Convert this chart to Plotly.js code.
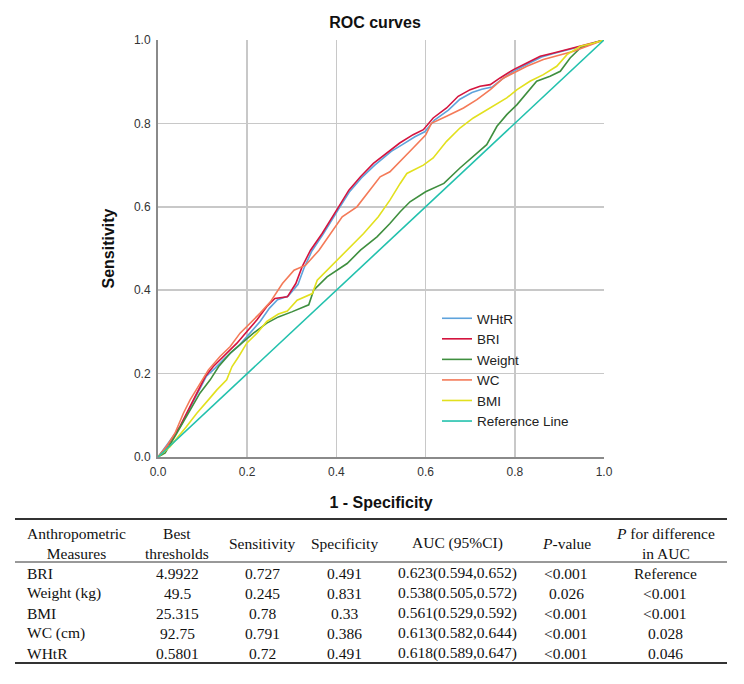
<!DOCTYPE html>
<html>
<head>
<meta charset="utf-8">
<script src="https://cdn.plot.ly/plotly-3.0.1.min.js"></script>
<style>html,body{margin:0;padding:0;background:#fff;}#chart{width:744px;height:684px;}</style>
</head>
<body>
<div id="chart"></div>
<script>
// ROC curve points (1 - Specificity, Sensitivity)
const whtrX = [0,0.05,0.073,0.092,0.108,0.128,0.15,0.183,0.203,0.229,0.25,0.268,0.292,0.314,0.327,0.345,0.37,0.392,0.407,0.43,0.456,0.486,0.523,0.546,0.576,0.598,0.62,0.651,0.677,0.704,0.726,0.749,0.77,0.8,0.83,0.86,0.889,0.919,0.948,0.978,1];
const whtrY = [0,0.073,0.121,0.161,0.193,0.213,0.237,0.269,0.293,0.325,0.357,0.377,0.386,0.414,0.452,0.494,0.534,0.574,0.598,0.637,0.669,0.7,0.733,0.748,0.768,0.78,0.808,0.832,0.858,0.874,0.882,0.887,0.905,0.927,0.943,0.959,0.968,0.976,0.984,0.993,1];

const briX = [0,0.02,0.049,0.072,0.091,0.106,0.124,0.147,0.177,0.196,0.222,0.244,0.262,0.29,0.309,0.323,0.342,0.368,0.39,0.405,0.428,0.454,0.483,0.52,0.542,0.572,0.595,0.617,0.647,0.673,0.7,0.722,0.745,0.767,0.797,0.827,0.857,0.887,0.917,0.947,0.977,1];
const briY = [0,0.025,0.073,0.121,0.161,0.193,0.217,0.241,0.273,0.297,0.329,0.361,0.38,0.384,0.416,0.456,0.496,0.536,0.576,0.6,0.64,0.672,0.704,0.736,0.753,0.773,0.785,0.813,0.837,0.865,0.881,0.889,0.893,0.909,0.929,0.945,0.961,0.969,0.977,0.985,0.993,1];

const weightX = [0,0.016,0.042,0.068,0.094,0.117,0.136,0.162,0.196,0.214,0.244,0.27,0.3,0.338,0.349,0.379,0.424,0.454,0.491,0.52,0.543,0.565,0.6,0.641,0.677,0.707,0.737,0.76,0.782,0.805,0.827,0.849,0.879,0.902,0.924,0.947,0.977,1];
const weightY = [0,0.01,0.057,0.105,0.153,0.185,0.217,0.249,0.281,0.297,0.321,0.336,0.348,0.365,0.4,0.432,0.464,0.496,0.528,0.56,0.588,0.612,0.636,0.656,0.693,0.721,0.749,0.793,0.821,0.845,0.873,0.901,0.913,0.925,0.957,0.981,0.993,1];

const wcX = [0,0.019,0.038,0.057,0.072,0.094,0.113,0.139,0.162,0.184,0.207,0.229,0.252,0.279,0.305,0.331,0.361,0.387,0.413,0.446,0.476,0.498,0.52,0.542,0.572,0.6,0.613,0.647,0.685,0.715,0.745,0.775,0.797,0.827,0.864,0.902,0.932,0.962,1];
const wcY = [0,0.025,0.057,0.105,0.137,0.177,0.209,0.241,0.265,0.297,0.321,0.345,0.372,0.416,0.448,0.46,0.496,0.536,0.576,0.6,0.64,0.672,0.684,0.709,0.741,0.772,0.8,0.817,0.837,0.857,0.881,0.909,0.921,0.937,0.953,0.965,0.973,0.985,1];

const bmiX = [0,0.027,0.064,0.087,0.113,0.132,0.154,0.166,0.181,0.199,0.222,0.244,0.27,0.29,0.312,0.346,0.357,0.394,0.431,0.461,0.494,0.52,0.543,0.558,0.595,0.617,0.647,0.677,0.707,0.745,0.782,0.805,0.834,0.864,0.894,0.917,0.947,0.977,1];
const bmiY = [0,0.025,0.073,0.105,0.137,0.161,0.185,0.217,0.241,0.273,0.297,0.325,0.343,0.35,0.376,0.392,0.424,0.464,0.504,0.536,0.576,0.616,0.656,0.68,0.7,0.717,0.757,0.789,0.813,0.837,0.861,0.881,0.901,0.917,0.937,0.965,0.985,0.993,1];

const refX = [0,1];
const refY = [0,1];

const seriesNames = ["WHtR","BRI","Weight","WC","BMI","Reference Line"];
const seriesColors = ["#5ea3dc","#d4143e","#3f8f3f","#f47a58","#e2e01e","#22c1ad"];

// Table
const tableHeader = ["Anthropometric<br>Measures","Best<br>thresholds","Sensitivity","Specificity","AUC (95%CI)","<i>P</i>-value","<i>P</i> for difference<br>in AUC"];
const measures = ["BRI","Weight (kg)","BMI","WC (cm)","WHtR"];
const bestThresholds = ["4.9922","49.5","25.315","92.75","0.5801"];
const sensitivity = ["0.727","0.245","0.78","0.791","0.72"];
const specificity = ["0.491","0.831","0.33","0.386","0.491"];
const aucCI = ["0.623(0.594,0.652)","0.538(0.505,0.572)","0.561(0.529,0.592)","0.613(0.582,0.644)","0.618(0.589,0.647)"];
const pValue = ["<0.001","0.026","<0.001","<0.001","<0.001"];
const pDiff = ["Reference","<0.001","<0.001","0.028","0.046"];

const xs = [whtrX, briX, weightX, wcX, bmiX, refX];
const ys = [whtrY, briY, weightY, wcY, bmiY, refY];

const traces = seriesNames.map((n, i) => ({
  type: "scatter", mode: "lines", name: n,
  x: xs[i], y: ys[i],
  line: {color: seriesColors[i], width: 1.6},
  xaxis: "x", yaxis: "y"
}));

const W = 744, H = 684;
const plotL = 158, plotR = 604, plotT = 40, plotB = 457;

// table layout (pixels)
const colCenters = [76, 177, 262, 344, 457, 566, 665];
const firstColLeft = 25;
const headerMid = 543;
const rowMids = [573, 593, 613, 633, 653];
const tfont = {family: "Liberation Serif, Times New Roman, serif", size: 15.5, color: "#111"};
const columns = [measures, bestThresholds, sensitivity, specificity, aucCI, pValue, pDiff];

const annotations = [];
tableHeader.forEach((h, c) => {
  annotations.push({xref: "paper", yref: "paper", x: colCenters[c] / W, y: 1 - headerMid / H,
    xanchor: "center", yanchor: "middle", align: "center", text: h, showarrow: false, font: tfont});
});
columns.forEach((col, c) => {
  col.forEach((v, r) => {
    const left = c === 0;
    annotations.push({xref: "paper", yref: "paper",
      x: (left ? firstColLeft : colCenters[c]) / W, y: 1 - rowMids[r] / H,
      xanchor: left ? "left" : "center", yanchor: "middle",
      text: v.replace(/</g, "&lt;"), showarrow: false, font: tfont});
  });
});

const rule = (py, w) => ({
  type: "line", xref: "paper", yref: "paper",
  x0: 15 / W, x1: 727 / W, y0: 1 - py / H, y1: 1 - py / H,
  line: {color: "#333", width: w}
});

const layout = {
  width: W, height: H,
  margin: {l: 0, r: 0, t: 0, b: 0},
  paper_bgcolor: "#ffffff", plot_bgcolor: "#ffffff",
  font: {family: "Liberation Sans, Arial, sans-serif", color: "#222"},
  title: {text: "<b>ROC curves</b>", x: 375 / W, xanchor: "center", y: 1 - 22 / H, yanchor: "middle",
          font: {size: 16, color: "#111"}},
  showlegend: true,
  legend: {x: 437 / W, y: 1 - 303 / H, xanchor: "left", yanchor: "top",
           bgcolor: "rgba(0,0,0,0)", font: {size: 13.5, color: "#222"}, tracegroupgap: 0},
  xaxis: {
    domain: [plotL / W, plotR / W], range: [0, 1], tickvals: [0,0.2,0.4,0.6,0.8,1],
    ticktext: ["0.0","0.2","0.4","0.6","0.8","1.0"],
    showgrid: true, gridcolor: "#c8c8c8", gridwidth: 1.5, zeroline: false,
    showline: true, linecolor: "#8a8a8a", linewidth: 2, ticks: "", ticklabelstandoff: 3,
    tickfont: {size: 12, color: "#333"}, fixedrange: true,
    title: {text: "<b>1 - Specificity</b>", font: {size: 16, color: "#111"}, standoff: 18}
  },
  yaxis: {
    domain: [1 - plotB / H, 1 - plotT / H], range: [0, 1], tickvals: [0,0.2,0.4,0.6,0.8,1],
    ticktext: ["0.0","0.2","0.4","0.6","0.8","1.0"],
    showgrid: true, gridcolor: "#c8c8c8", gridwidth: 1.5, zeroline: false,
    showline: true, linecolor: "#8a8a8a", linewidth: 2, ticks: "", ticklabelstandoff: 3,
    tickfont: {size: 12, color: "#333"}, fixedrange: true,
    title: {text: "<b>Sensitivity</b>", font: {size: 16, color: "#111"}, standoff: 15}
  },
  annotations: annotations,
  shapes: [rule(519, 2), rule(562, 1), rule(663, 2)]
};

Plotly.newPlot("chart", traces, layout, {displayModeBar: false, staticPlot: true});
</script>
</body>
</html>
